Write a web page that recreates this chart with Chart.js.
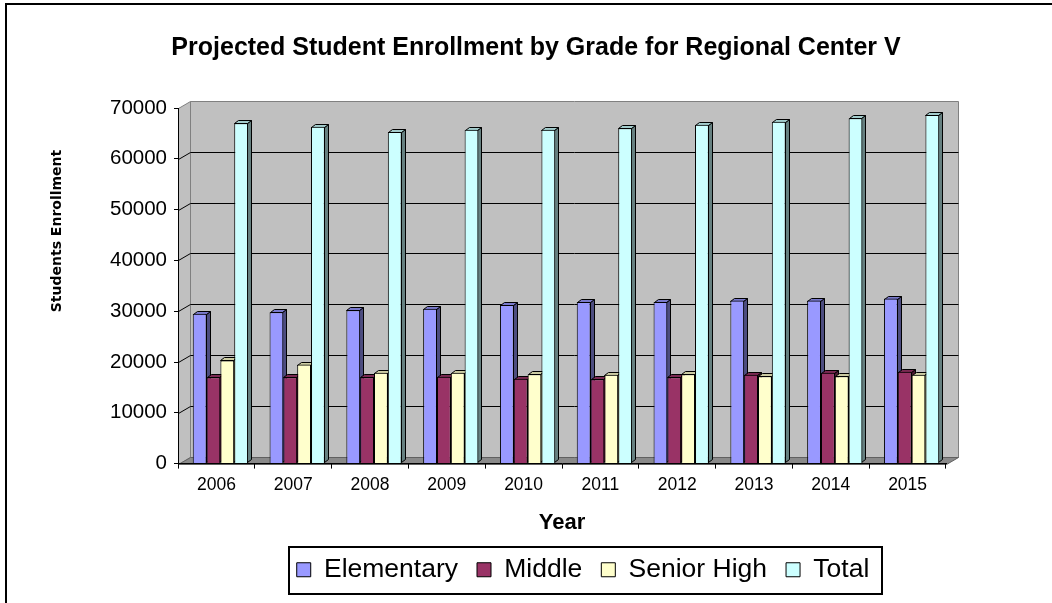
<!DOCTYPE html>
<html>
<head>
<meta charset="utf-8">
<script src="https://cdn.jsdelivr.net/npm/chart.js@4.4.1/dist/chart.umd.min.js"></script>
<style>
html,body{margin:0;padding:0;background:#fff;overflow:hidden;}
#frame{position:absolute;left:5px;top:3px;width:1100px;height:700px;border-left:2px solid #000;border-top:2px solid #000;}
#c{position:absolute;left:0;top:0;}
</style>
</head>
<body>
<div id="frame"></div>
<canvas id="c" width="1052" height="603"></canvas>
<script>
const chartTitle = 'Projected Student Enrollment by Grade for Regional Center V';
const xAxisTitle = 'Year';
const yAxisTitle = 'Students Enrollment';
const years = ['2006','2007','2008','2009','2010','2011','2012','2013','2014','2015'];
const seriesNames = ['Elementary','Middle','Senior High','Total'];
const elementary = [29500, 29800, 30200, 30500, 31200, 31800, 31800, 32100, 32100, 32500];
const middle     = [17000, 17000, 17000, 17100, 16700, 16600, 17000, 17500, 17900, 18100];
const seniorHigh = [20300, 19500, 17900, 17900, 17600, 17500, 17600, 17200, 17200, 17500];
const total      = [67000, 66300, 65300, 65700, 65700, 66000, 66700, 67300, 68000, 68600];
const yMin = 0, yMax = 70000, yStep = 10000;

const frontColors = ['#9999ff', '#993366', '#ffffcc', '#ccffff'];
const sideColors  = ['#4d4d80', '#4d1a33', '#808066', '#668080'];
const topColors   = ['#7a7acc', '#7a2952', '#cccca3', '#a3cccc'];

const FONT = "'Liberation Sans', Arial, sans-serif";
Chart.defaults.font.family = FONT;
Chart.defaults.color = '#000';

const DX = 12, DY = 7;      // wall depth
const BDX = 4, BDY = 3;     // bar depth
const SHIFT = 4;            // bar group offset (3D perspective)
const LEGEND_CX = 583, TITLE_CX = 536, YTITLE_CY = 231;

const threeD = {
  id: 'threeD',
  afterLayout(chart) {
    const lg = chart.legend;
    if (lg) { const d = LEGEND_CX - (lg.left + lg.right) / 2; lg.left += d; lg.right += d; }
    const tb = chart.titleBlock;
    if (tb) { const d = TITLE_CX - (tb.left + tb.right) / 2; tb.left += d; tb.right += d; }
    const ys = chart.scales.y;
    if (ys && !ys._titlePatched) {
      const orig = ys.drawTitle;
      ys.drawTitle = function () {
        const c = this.ctx;
        c.save();
        c.translate(0, YTITLE_CY - (this.top + this.bottom) / 2);
        orig.call(this);
        c.restore();
      };
      ys._titlePatched = true;
    }
  },
  beforeDraw(chart) {
    const {ctx, chartArea: a, scales: {y}} = chart;
    const L = Math.round(a.left) + 0.5, R = Math.round(a.right) + 0.5;
    const T = Math.round(a.top) + 0.5, B = Math.round(a.bottom) + 0.5;
    ctx.save();
    ctx.lineWidth = 1;
    ctx.fillStyle = '#c0c0c0';
    ctx.strokeStyle = '#808080';
    ctx.beginPath();
    ctx.rect(L + DX, T - DY, R - L, B - T);
    ctx.fill(); ctx.stroke();
    ctx.beginPath();
    ctx.moveTo(L, T); ctx.lineTo(L + DX, T - DY); ctx.lineTo(L + DX, B - DY); ctx.lineTo(L, B);
    ctx.closePath(); ctx.fill(); ctx.stroke();
    ctx.fillStyle = '#8a8a8a';
    ctx.strokeStyle = '#606060';
    ctx.beginPath();
    ctx.moveTo(L, B); ctx.lineTo(L + DX, B - DY); ctx.lineTo(R + DX, B - DY); ctx.lineTo(R, B);
    ctx.closePath(); ctx.fill(); ctx.stroke();
    ctx.strokeStyle = '#000';
    y.ticks.forEach(t => {
      if (t.value <= yMin || t.value >= yMax) return;
      const py = Math.round(y.getPixelForValue(t.value)) + 0.5;
      ctx.beginPath();
      ctx.moveTo(L, py); ctx.lineTo(L + DX, py - DY); ctx.lineTo(R + DX, py - DY);
      ctx.stroke();
    });
    ctx.restore();
  },
  beforeDatasetsDraw(chart) {
    const ctx = chart.ctx;
    ctx.save();
    ctx.translate(SHIFT, 0);
    ctx.save();
    ctx.lineWidth = 1;
    ctx.strokeStyle = '#000';
    chart.data.datasets.forEach((ds, i) => {
      const meta = chart.getDatasetMeta(i);
      meta.data.forEach(bar => {
        const {x, y, base, width} = bar.getProps(['x', 'y', 'base', 'width'], true);
        const l = Math.round(x - width / 2) + 0.5, r = Math.round(x + width / 2) - 0.5;
        const yt = Math.round(y) + 0.5, yb = Math.round(base) - 0.5;
        ctx.fillStyle = sideColors[i];
        ctx.beginPath();
        ctx.moveTo(r, yt); ctx.lineTo(r + BDX, yt - BDY); ctx.lineTo(r + BDX, yb - BDY); ctx.lineTo(r, yb);
        ctx.closePath(); ctx.fill(); ctx.stroke();
        ctx.fillStyle = topColors[i];
        ctx.beginPath();
        ctx.moveTo(l, yt); ctx.lineTo(l + BDX, yt - BDY); ctx.lineTo(r + BDX, yt - BDY); ctx.lineTo(r, yt);
        ctx.closePath(); ctx.fill(); ctx.stroke();
      });
    });
    ctx.restore();
  },
  afterDatasetsDraw(chart) {
    chart.ctx.restore();
  },
  afterDraw(chart) {
    const lg = chart.legend;
    if (!lg || !lg.legendHitBoxes || !lg.legendHitBoxes.length) return;
    const hb = lg.legendHitBoxes;
    const l = Math.min(...hb.map(h => h.left)) - 8;
    const r = Math.max(...hb.map(h => h.left + h.width)) + 12;
    const t = hb[0].top - 10;
    const b = hb[0].top + hb[0].height + 10;
    const ctx = chart.ctx;
    ctx.save();
    ctx.strokeStyle = '#000';
    ctx.lineWidth = 2;
    ctx.strokeRect(Math.round(l), Math.round(t), Math.round(r - l), Math.round(b - t));
    ctx.restore();
  }
};

const seriesValues = [elementary, middle, seniorHigh, total];

new Chart(document.getElementById('c'), {
  type: 'bar',
  data: {
    labels: years,
    datasets: seriesNames.map((name, i) => ({
      label: name,
      data: seriesValues[i],
      backgroundColor: frontColors[i],
      borderColor: '#000',
      borderWidth: 1,
      barPercentage: 1.0,
      categoryPercentage: 0.72
    }))
  },
  options: {
    responsive: false,
    animation: false,
    layout: { padding: { left: 0, right: 106, top: 0, bottom: 10 } },
    plugins: {
      title: {
        display: true, text: chartTitle, color: '#000',
        font: { family: FONT, size: 25, weight: 'bold' },
        padding: { top: 33, bottom: 45 }
      },
      legend: {
        position: 'bottom',
        labels: {
          color: '#000', font: { family: FONT, size: 26.5 },
          boxWidth: 14, boxHeight: 14, padding: 19
        }
      },
      tooltip: { enabled: false }
    },
    scales: {
      x: {
        grid: { display: true, drawOnChartArea: false, tickLength: 5, color: '#000', offset: true },
        border: { display: true, color: '#000', width: 1 },
        ticks: { color: '#000', font: { family: FONT, size: 17.5 }, padding: 6, maxRotation: 0, autoSkip: false },
        title: {
          display: true, text: xAxisTitle, color: '#000',
          font: { family: FONT, size: 22, weight: 'bold' },
          padding: { top: 8, bottom: 1.5 }
        }
      },
      y: {
        min: yMin, max: yMax,
        grid: { display: true, drawOnChartArea: false, tickLength: 4, color: '#000' },
        border: { display: true, color: '#000', width: 1 },
        ticks: {
          stepSize: yStep, color: '#000', font: { family: FONT, size: 20.5 }, padding: 7,
          format: { useGrouping: false }
        },
        title: {
          display: true, text: yAxisTitle, color: '#000',
          font: { family: "'DejaVu Sans', sans-serif", size: 14, weight: 'bold' },
          padding: { top: 48.6, bottom: 0 }
        },
        afterFit(scale) { scale.width = 178; }
      }
    }
  },
  plugins: [threeD]
});
</script>
</body>
</html>
